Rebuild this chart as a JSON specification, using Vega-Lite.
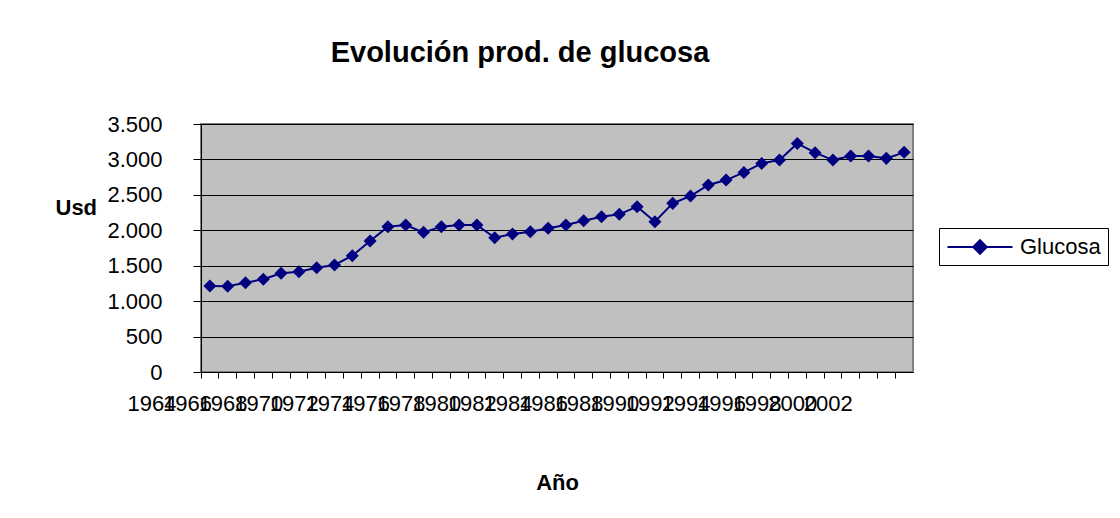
{
  "$schema": "https://vega.github.io/schema/vega-lite/v6.json",
  "width": 712,
  "height": 248,
  "autosize": "none",
  "padding": {"left": 201, "top": 124, "right": 207, "bottom": 146},
  "background": "white",
  "title": {
    "text": "Evolución prod. de glucosa",
    "font": "Liberation Sans",
    "fontSize": 29,
    "fontWeight": "bold",
    "color": "black",
    "anchor": "middle",
    "frame": "group",
    "baseline": "alphabetic",
    "offset": 22,
    "dx": -37
  },
  "config": {
    "view": {"fill": "#C0C0C0", "stroke": "#808080", "strokeWidth": 2},
    "font": "Liberation Sans",
    "axis": {
      "labelFont": "Liberation Sans",
      "labelFontSize": 22,
      "labelColor": "black",
      "titleFont": "Liberation Sans",
      "titleFontSize": 22,
      "titleFontWeight": "bold",
      "titleColor": "black",
      "domainColor": "black",
      "tickColor": "black"
    },
    "legend": {
      "orient": "none",
      "legendX": 738,
      "legendY": 104,
      "strokeColor": "black",
      "fillColor": "white",
      "padding": 7,
      "labelFont": "Liberation Sans",
      "labelFontSize": 22,
      "labelColor": "black",
      "symbolType": "M-3,0L3,0M0,-0.62L0.62,0L0,0.62L-0.62,0Z",
      "symbolSize": 470,
      "symbolStrokeWidth": 2,
      "symbolFillColor": "#000080",
      "symbolStrokeColor": "#000080",
      "symbolOffset": 22,
      "labelOffset": 28
    }
  },
  "data": {
    "values": [
      {"Year": 1964, "Usd": 1214, "Serie": "Glucosa"},
      {"Year": 1965, "Usd": 1210, "Serie": "Glucosa"},
      {"Year": 1966, "Usd": 1260, "Serie": "Glucosa"},
      {"Year": 1967, "Usd": 1308, "Serie": "Glucosa"},
      {"Year": 1968, "Usd": 1393, "Serie": "Glucosa"},
      {"Year": 1969, "Usd": 1416, "Serie": "Glucosa"},
      {"Year": 1970, "Usd": 1472, "Serie": "Glucosa"},
      {"Year": 1971, "Usd": 1510, "Serie": "Glucosa"},
      {"Year": 1972, "Usd": 1641, "Serie": "Glucosa"},
      {"Year": 1973, "Usd": 1849, "Serie": "Glucosa"},
      {"Year": 1974, "Usd": 2051, "Serie": "Glucosa"},
      {"Year": 1975, "Usd": 2074, "Serie": "Glucosa"},
      {"Year": 1976, "Usd": 1971, "Serie": "Glucosa"},
      {"Year": 1977, "Usd": 2051, "Serie": "Glucosa"},
      {"Year": 1978, "Usd": 2074, "Serie": "Glucosa"},
      {"Year": 1979, "Usd": 2074, "Serie": "Glucosa"},
      {"Year": 1980, "Usd": 1895, "Serie": "Glucosa"},
      {"Year": 1981, "Usd": 1947, "Serie": "Glucosa"},
      {"Year": 1982, "Usd": 1980, "Serie": "Glucosa"},
      {"Year": 1983, "Usd": 2028, "Serie": "Glucosa"},
      {"Year": 1984, "Usd": 2074, "Serie": "Glucosa"},
      {"Year": 1985, "Usd": 2135, "Serie": "Glucosa"},
      {"Year": 1986, "Usd": 2191, "Serie": "Glucosa"},
      {"Year": 1987, "Usd": 2225, "Serie": "Glucosa"},
      {"Year": 1988, "Usd": 2333, "Serie": "Glucosa"},
      {"Year": 1989, "Usd": 2121, "Serie": "Glucosa"},
      {"Year": 1990, "Usd": 2380, "Serie": "Glucosa"},
      {"Year": 1991, "Usd": 2484, "Serie": "Glucosa"},
      {"Year": 1992, "Usd": 2639, "Serie": "Glucosa"},
      {"Year": 1993, "Usd": 2709, "Serie": "Glucosa"},
      {"Year": 1994, "Usd": 2817, "Serie": "Glucosa"},
      {"Year": 1995, "Usd": 2944, "Serie": "Glucosa"},
      {"Year": 1996, "Usd": 2991, "Serie": "Glucosa"},
      {"Year": 1997, "Usd": 3226, "Serie": "Glucosa"},
      {"Year": 1998, "Usd": 3095, "Serie": "Glucosa"},
      {"Year": 1999, "Usd": 2991, "Serie": "Glucosa"},
      {"Year": 2000, "Usd": 3048, "Serie": "Glucosa"},
      {"Year": 2001, "Usd": 3048, "Serie": "Glucosa"},
      {"Year": 2002, "Usd": 3015, "Serie": "Glucosa"},
      {"Year": 2003, "Usd": 3100, "Serie": "Glucosa"}
    ]
  },
  "encoding": {
    "x": {
      "field": "Year",
      "type": "ordinal",
      "scale": {"type": "band", "paddingInner": 0, "paddingOuter": 0},
      "axis": {
        "title": "Año",
        "titleX": 356,
        "titleY": 110,
        "titleAlign": "center",
        "titleBaseline": "middle",
        "labelAngle": 0,
        "labelOverlap": false,
        "labelBound": false,
        "labelFlush": false,
        "bandPosition": 0,
        "tickSize": 6,
        "labelPadding": 15,
        "labelOffset": -58,
        "labelExpr": "datum.value % 2 == 0 ? datum.label : ''",
        "domainWidth": 1
      }
    },
    "y": {
      "field": "Usd",
      "type": "quantitative",
      "scale": {"domain": [0, 3500], "nice": false},
      "axis": {
        "title": "Usd",
        "titleAngle": 0,
        "titleAlign": "left",
        "titleBaseline": "middle",
        "titleX": -146,
        "titleY": 83,
        "values": [0, 500, 1000, 1500, 2000, 2500, 3000, 3500],
        "labelExpr": "replace(format(datum.value, ','), ',', '.')",
        "tickSize": 8,
        "labelPadding": 31,
        "grid": true,
        "gridColor": "black",
        "gridOpacity": 1,
        "gridWidth": 1
      }
    },
    "color": {
      "field": "Serie",
      "type": "nominal",
      "scale": {"range": ["#000080"]},
      "legend": {"title": null}
    }
  },
  "layer": [
    {"mark": {"type": "line", "strokeWidth": 2}},
    {"mark": {"type": "point", "shape": "diamond", "filled": true, "size": 170, "opacity": 1}}
  ]
}
